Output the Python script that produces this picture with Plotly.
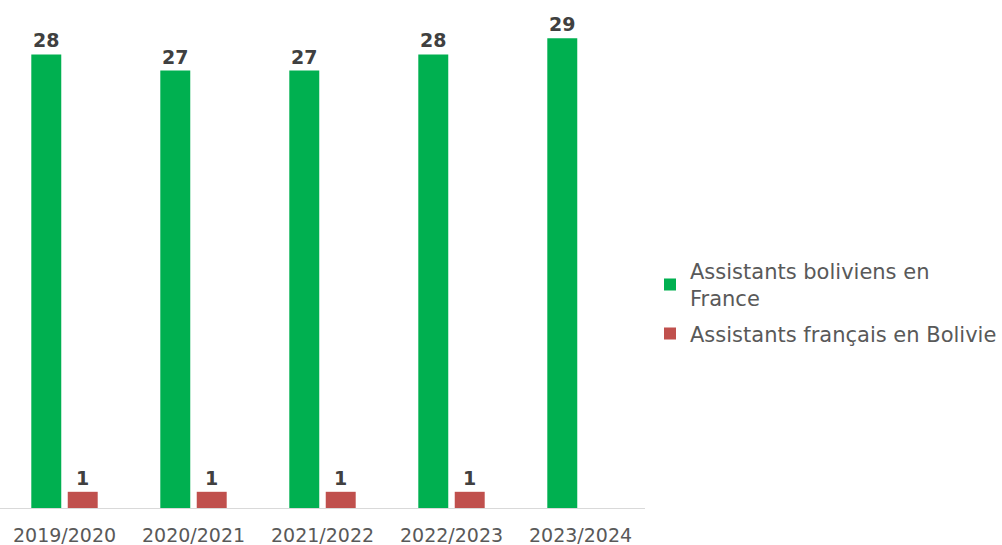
import plotly.graph_objects as go

categories = ["2019/2020", "2020/2021", "2021/2022", "2022/2023", "2023/2024"]
boliviens_en_france = [28, 27, 27, 28, 29]
francais_en_bolivie = [1, 1, 1, 1, None]

series_names = ["Assistants boliviens en<br>France", "Assistants français en Bolivie"]
colors = ["#00B050", "#C0504D"]

FONT = "DejaVu Sans"

fig = go.Figure()
for i, (name, vals, col) in enumerate(zip(series_names, [boliviens_en_france, francais_en_bolivie], colors)):
    fig.add_trace(go.Bar(
        x=categories, y=vals, name=name, legendgroup=f"g{i}",
        marker=dict(color=col, line=dict(width=0)),
        text=[("" if v is None else str(v)) for v in vals],
        textposition="outside",
        textfont=dict(family=FONT, size=19, color="#404040", weight="bold"),
        cliponaxis=False,
    ))

fig.update_layout(
    width=1002, height=545,
    margin=dict(l=0, r=356, t=0, b=37),
    paper_bgcolor="white", plot_bgcolor="white",
    barmode="group", bargap=0.435, bargroupgap=0.178,
    font=dict(family=FONT, color="#595959"),
    showlegend=True,
    legend=dict(
        x=1.007, xanchor="left", y=0.405, yanchor="middle",
        font=dict(family=FONT, size=21, color="#595959"),
        tracegroupgap=5, itemwidth=30,
    ),
    xaxis=dict(
        showline=True, linecolor="#D9D9D9", linewidth=1,
        ticks="", tickfont=dict(family=FONT, size=19, color="#595959"),
        ticklabelstandoff=10,
        showgrid=False,
    ),
    yaxis=dict(
        range=[0, 508 / 16.2], visible=False, showgrid=False, zeroline=False,
    ),
)

fig.write_html("out.html", config={"displayModeBar": False},
               post_script="document.body.style.margin='0';")
